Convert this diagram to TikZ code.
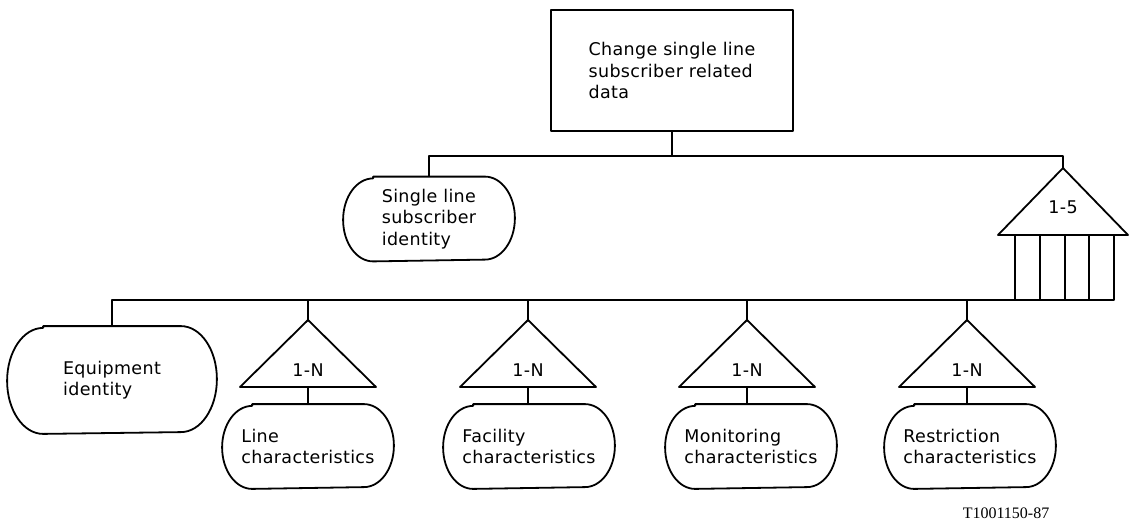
\documentclass[tikz,border=0pt]{standalone}
\usepackage{fontspec}
\setmainfont{DejaVu Sans}
\newfontfamily\lblfont[LetterSpace=2.0]{DejaVu Sans}
\newfontfamily\capfont{Liberation Serif}
\usetikzlibrary{calc}
\newcommand{\capsuleoutline}[3]{%
  \draw ([xshift=#2]#1.north west) -- ([xshift=-#2]#1.north east)
    arc[start angle=90,end angle=-90,x radius=#2,y radius=#3]
    -- ([xshift=#2]#1.south west)
    arc[start angle=270,end angle=90,x radius=#2,y radius=#3] -- cycle;}
\newcommand{\tri}[2]{% apex coordinate name, half width
  \draw (#1) -- ++(-#2,-67) -- ++(2*#2,0) -- cycle;}
\begin{document}
\begin{tikzpicture}[x=1pt,y=1pt,line width=1.8pt,line join=round,
  every node/.style={font=\lblfont\fontsize{17.5}{21.5}\selectfont},
  capbox/.style={inner sep=0pt,align=left,minimum width=170pt,minimum height=83pt},
  topbox/.style={draw,inner sep=0pt,align=left,minimum width=242pt,minimum height=121pt}]
\useasboundingbox (0,0) rectangle (1130,-528);

% top box
\node[topbox] (top) at (672,-70.5) {Change single line\\subscriber related\\data};
\coordinate (j1) at (672,-156);
\draw (top.south) -- (j1);

% single line subscriber identity
\node[capbox] (sl) at (429,-219) {Single line\\subscriber\\identity};
\capsuleoutline{sl}{30pt}{41.5pt}

% 1-5 selection
\coordinate (t5a) at (1063,-168);
\coordinate (j5) at (1063,-156);
\draw (t5a) -- ++(-65,-67) -- ++(130,0) -- cycle;
\node (t5t) at (1063,-207) {1-5};
\draw (1015,-235) rectangle (1114,-300);
\draw (1040,-235) -- (1040,-300);
\draw (1065,-235) -- (1065,-300);
\draw (1089,-235) -- (1089,-300);
\draw (sl.north) |- (j5) -- (t5a);

% bottom row
\coordinate (jb) at (1015,-300);
\node[capbox,minimum width=208pt,minimum height=106pt] (eq) at (112,-380) {Equipment\\identity};
\capsuleoutline{eq}{36pt}{53pt}
\draw (eq.north) |- (jb);

\coordinate (na) at (308,-320);
\coordinate (fa) at (528,-320);
\coordinate (ma) at (747,-320);
\coordinate (ra) at (967,-320);
\tri{na}{68}
\tri{fa}{68}
\tri{ma}{68}
\tri{ra}{68}
\node (nt) at (308,-370) {1-N};
\node (ft) at (528,-370) {1-N};
\node (mt) at (747,-370) {1-N};
\node (rt) at (967,-370) {1-N};
\draw (na) -- (na |- jb);
\draw (fa) -- (fa |- jb);
\draw (ma) -- (ma |- jb);
\draw (ra) -- (ra |- jb);

\node[capbox] (lc) at (308,-446.5) {Line\\characteristics};
\node[capbox] (fc) at (529,-446.5) {Facility\\characteristics};
\node[capbox] (mc) at (751,-446.5) {Monitoring\\characteristics};
\node[capbox] (rc) at (970,-446.5) {Restriction\\characteristics};
\capsuleoutline{lc}{30pt}{41.5pt}
\capsuleoutline{fc}{30pt}{41.5pt}
\capsuleoutline{mc}{30pt}{41.5pt}
\capsuleoutline{rc}{30pt}{41.5pt}
\draw ($(na)+(0,-67)$) -- (na |- lc.north);
\draw ($(fa)+(0,-67)$) -- (fa |- fc.north);
\draw ($(ma)+(0,-67)$) -- (ma |- mc.north);
\draw ($(ra)+(0,-67)$) -- (ra |- rc.north);

% caption
\node[font=\capfont\fontsize{16}{18}\selectfont] (caption) at (1006,-513) {T1001150-87};
\end{tikzpicture}
\end{document}
